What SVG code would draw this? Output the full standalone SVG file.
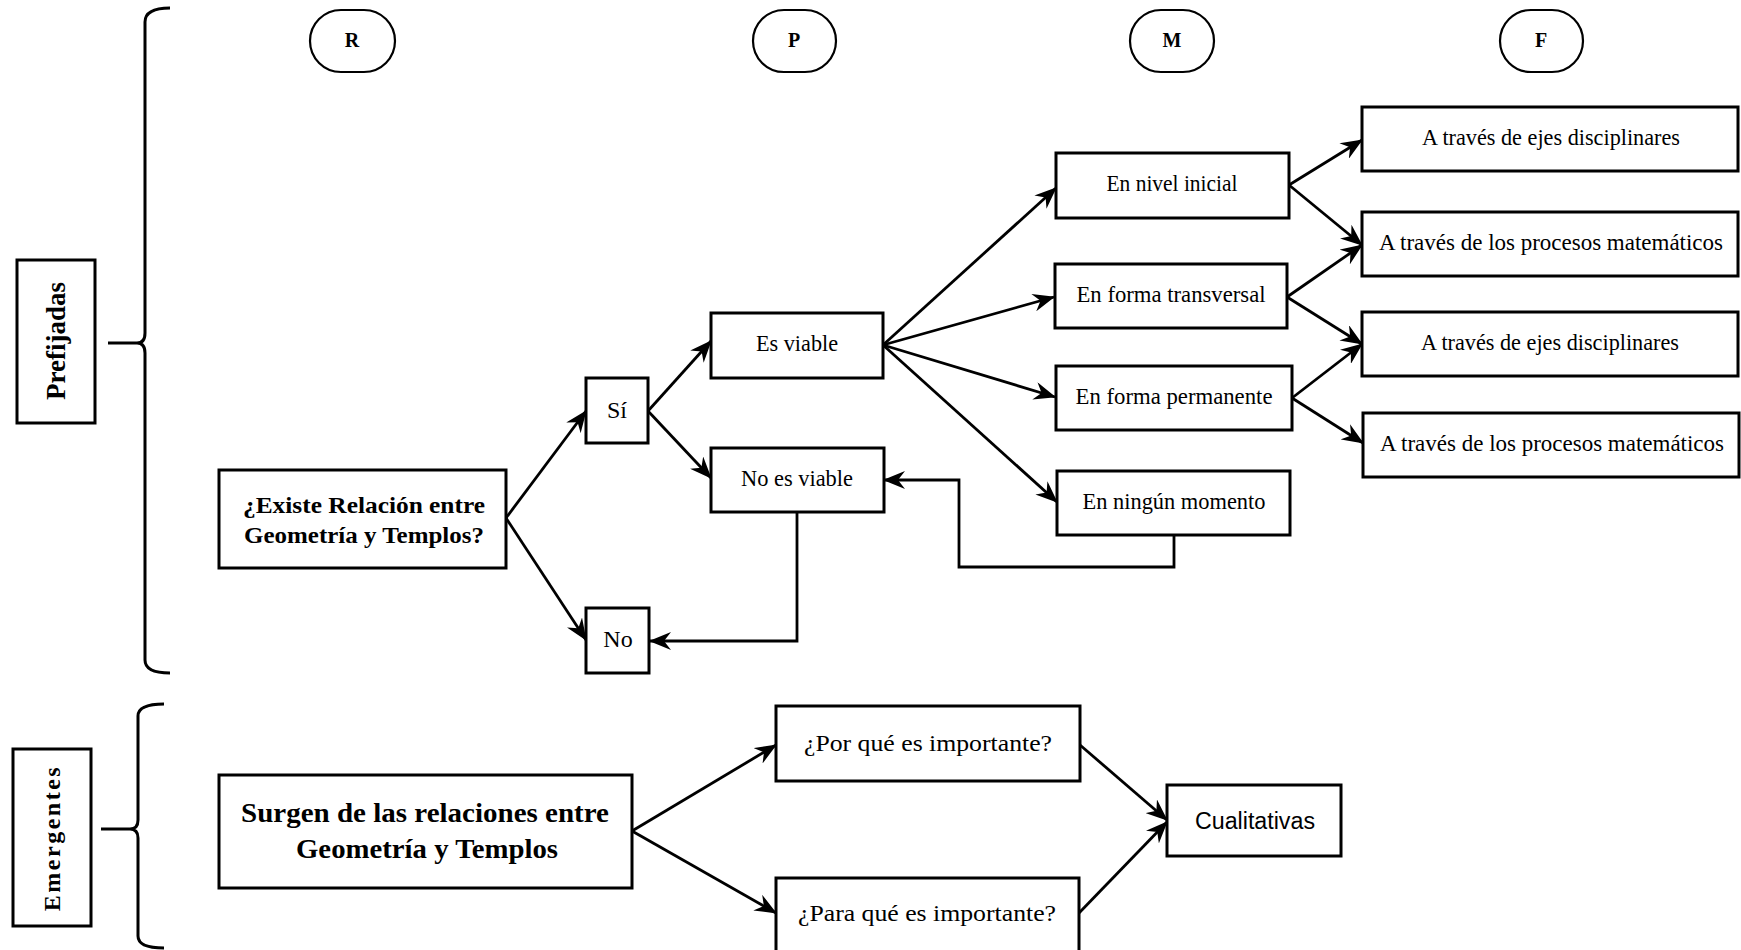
<svg xmlns="http://www.w3.org/2000/svg" width="1741" height="950" viewBox="0 0 1741 950">
<defs>
<style>
.box{fill:#fff;stroke:#000;stroke-width:3}
.hdr{fill:#fff;stroke:#000;stroke-width:2.2}
.ln{fill:none;stroke:#000;stroke-width:2.8}
.br{fill:none;stroke:#000;stroke-width:3}
.t{font-family:"Liberation Serif","Times New Roman",serif;font-size:24px;text-anchor:middle;fill:#000}
.tb{font-family:"Liberation Serif","Times New Roman",serif;font-weight:bold;text-anchor:middle;fill:#000}
.ts{font-family:"Liberation Sans",Arial,sans-serif;font-size:23px;text-anchor:middle;fill:#000}
</style>
<marker id="ah" markerUnits="userSpaceOnUse" markerWidth="24" markerHeight="18" refX="21" refY="9" orient="auto">
<path d="M0,0 L22,9 L0,18 L7,9 Z" fill="#000"/>
</marker>
</defs>
<rect width="1741" height="950" fill="#fff"/>

<g id="braces">
<path class="br" d="M170,8 Q145,8 145,22 L145,333 Q145,343 137,343 L108,343 M137,343 Q145,343 145,353 L145,660 Q145,673 170,673"/>
<path class="br" d="M164,704 Q138,704 138,716 L138,820 Q138,829 130,829 L101,829 M130,829 Q138,829 138,838 L138,936 Q138,948 164,948"/>
</g>

<g id="connectors">
<line class="ln" x1="506" y1="518" x2="586" y2="411" marker-end="url(#ah)"/>
<line class="ln" x1="506" y1="518" x2="586" y2="640" marker-end="url(#ah)"/>
<line class="ln" x1="648" y1="411" x2="711" y2="341" marker-end="url(#ah)"/>
<line class="ln" x1="648" y1="411" x2="711" y2="478" marker-end="url(#ah)"/>
<polyline class="ln" points="797,512 797,641 650,641" marker-end="url(#ah)"/>
<line class="ln" x1="883" y1="345" x2="1056" y2="188" marker-end="url(#ah)"/>
<line class="ln" x1="883" y1="345" x2="1054" y2="297" marker-end="url(#ah)"/>
<line class="ln" x1="883" y1="345" x2="1055" y2="397" marker-end="url(#ah)"/>
<line class="ln" x1="883" y1="345" x2="1057" y2="502" marker-end="url(#ah)"/>
<line class="ln" x1="1289" y1="185" x2="1362" y2="140" marker-end="url(#ah)"/>
<line class="ln" x1="1289" y1="185" x2="1362" y2="245" marker-end="url(#ah)"/>
<line class="ln" x1="1287" y1="297" x2="1362" y2="245" marker-end="url(#ah)"/>
<line class="ln" x1="1287" y1="297" x2="1362" y2="344" marker-end="url(#ah)"/>
<line class="ln" x1="1292" y1="398" x2="1362" y2="344" marker-end="url(#ah)"/>
<line class="ln" x1="1292" y1="398" x2="1363" y2="443" marker-end="url(#ah)"/>
<polyline class="ln" points="1174,535 1174,567 959,567 959,480 884,480" marker-end="url(#ah)"/>
<line class="ln" x1="632" y1="831" x2="776" y2="745" marker-end="url(#ah)"/>
<line class="ln" x1="632" y1="831" x2="776" y2="913" marker-end="url(#ah)"/>
<line class="ln" x1="1080" y1="745" x2="1167" y2="820" marker-end="url(#ah)"/>
<line class="ln" x1="1079" y1="913" x2="1167" y2="822" marker-end="url(#ah)"/>
</g>

<g id="prefijadas"><rect class="box" x="17" y="260" width="78" height="163"/><text class="tb" font-size="27" transform="translate(65,341) rotate(-90)">Prefijadas</text></g>
<g id="emergentes"><rect class="box" x="13" y="749" width="78" height="177"/><text class="tb" font-size="24" letter-spacing="2.5" transform="translate(60,838) rotate(-90)">Emergentes</text></g>

<g id="hR"><rect class="hdr" x="310" y="10" width="85" height="62" rx="31"/><text class="tb" font-size="20" x="352" y="47">R</text></g>
<g id="hP"><rect class="hdr" x="753" y="10" width="83" height="62" rx="31"/><text class="tb" font-size="20" x="794" y="47">P</text></g>
<g id="hM"><rect class="hdr" x="1130" y="10" width="84" height="62" rx="31"/><text class="tb" font-size="20" x="1172" y="47">M</text></g>
<g id="hF"><rect class="hdr" x="1500" y="10" width="83" height="62" rx="31"/><text class="tb" font-size="20" x="1541" y="47">F</text></g>

<g id="existe"><rect class="box" x="219" y="470" width="287" height="98"/><text class="tb" font-size="24" x="364" y="513" textLength="242" lengthAdjust="spacingAndGlyphs">¿Existe Relación entre</text><text class="tb" font-size="24" x="364" y="543" textLength="240" lengthAdjust="spacingAndGlyphs">Geometría y Templos?</text></g>
<g id="si"><rect class="box" x="586" y="378" width="62" height="65"/><text class="t" x="617" y="418">Sí</text></g>
<g id="no"><rect class="box" x="586" y="608" width="63" height="65"/><text class="t" x="618" y="647">No</text></g>
<g id="esviable"><rect class="box" x="711" y="313" width="172" height="65"/><text class="t" x="797" y="351" textLength="82" lengthAdjust="spacingAndGlyphs">Es viable</text></g>
<g id="noesviable"><rect class="box" x="711" y="448" width="173" height="64"/><text class="t" x="797" y="486" textLength="112" lengthAdjust="spacingAndGlyphs">No es viable</text></g>

<g id="nivel"><rect class="box" x="1056" y="153" width="233" height="65"/><text class="t" x="1172" y="191" textLength="131" lengthAdjust="spacingAndGlyphs">En nivel inicial</text></g>
<g id="transversal"><rect class="box" x="1055" y="264" width="232" height="64"/><text class="t" x="1171" y="302" textLength="189" lengthAdjust="spacingAndGlyphs">En forma transversal</text></g>
<g id="permanente"><rect class="box" x="1056" y="366" width="236" height="64"/><text class="t" x="1174" y="404" textLength="197" lengthAdjust="spacingAndGlyphs">En forma permanente</text></g>
<g id="ninguno"><rect class="box" x="1057" y="471" width="233" height="64"/><text class="t" x="1174" y="509" textLength="183" lengthAdjust="spacingAndGlyphs">En ningún momento</text></g>

<g id="f1"><rect class="box" x="1362" y="107" width="376" height="64"/><text class="t" x="1551" y="145" textLength="258" lengthAdjust="spacingAndGlyphs">A través de ejes disciplinares</text></g>
<g id="f2"><rect class="box" x="1362" y="212" width="376" height="64"/><text class="t" x="1551" y="250" textLength="344" lengthAdjust="spacingAndGlyphs">A través de los procesos matemáticos</text></g>
<g id="f3"><rect class="box" x="1362" y="312" width="376" height="64"/><text class="t" x="1550" y="350" textLength="258" lengthAdjust="spacingAndGlyphs">A través de ejes disciplinares</text></g>
<g id="f4"><rect class="box" x="1363" y="413" width="376" height="64"/><text class="t" x="1552" y="451" textLength="344" lengthAdjust="spacingAndGlyphs">A través de los procesos matemáticos</text></g>

<g id="surgen"><rect class="box" x="219" y="775" width="413" height="113"/><text class="tb" font-size="27" x="425" y="822" textLength="368" lengthAdjust="spacingAndGlyphs">Surgen de las relaciones entre</text><text class="tb" font-size="27" x="427" y="858" textLength="262" lengthAdjust="spacingAndGlyphs">Geometría y Templos</text></g>
<g id="porque"><rect class="box" x="776" y="706" width="304" height="75"/><text class="t" font-size="23" x="928" y="751" textLength="248" lengthAdjust="spacingAndGlyphs">¿Por qué es importante?</text></g>
<g id="paraque"><rect class="box" x="776" y="878" width="303" height="75"/><text class="t" font-size="23" x="927" y="921" textLength="258" lengthAdjust="spacingAndGlyphs">¿Para qué es importante?</text></g>
<g id="cualitativas"><rect class="box" x="1167" y="785" width="174" height="71"/><text class="ts" x="1255" y="829" textLength="120" lengthAdjust="spacingAndGlyphs">Cualitativas</text></g>
</svg>
